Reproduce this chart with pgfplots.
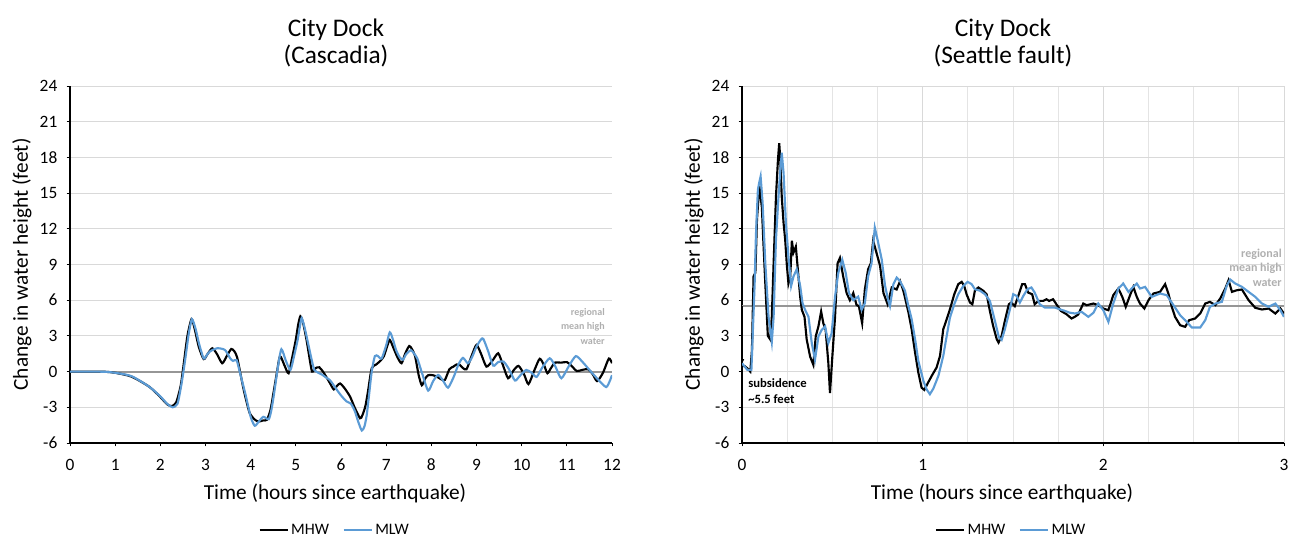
\documentclass[border=0pt]{standalone}
\usepackage{pgfplots}
\pgfplotsset{compat=1.18}
\usepackage{fontspec}
\setmainfont{Carlito}
\usetikzlibrary{arrows.meta}
\definecolor{mlw}{RGB}{91,155,213}
\definecolor{gridc}{RGB}{217,217,217}
\definecolor{meanc}{RGB}{150,150,150}
\definecolor{anno}{RGB}{175,175,175}
\pgfplotsset{
 base/.style={
  scale only axis, width=406.5pt, height=267.75pt,
  ymin=-6, ymax=24, ytick={-6,-3,...,24},
  axis lines=left, axis line style={-, black, line width=0.8pt},
  ymajorgrids, grid style={gridc, line width=0.6pt},
  tick style={black, line width=0.6pt}, tick align=outside, major tick length=2.5pt,
  ticklabel style={font=\fontsize{13}{15}\selectfont},
  /pgf/number format/assume math mode=true,
  yticklabel style={xshift=-3.5pt},
  xticklabel style={yshift=-6pt},
  legend style={draw=none, fill=none, legend columns=2, font=\fontsize{12}{14}\selectfont,
    /tikz/every even column/.append style={column sep=8pt}},
  legend image code/.code={\draw[#1, line width=1.6pt] (0pt,0pt) -- (21pt,0pt);},
 }
}
\begin{document}
\begin{tikzpicture}
\begin{axis}[base, at={(0pt,0pt)}, xmin=0, xmax=12, xtick={0,1,...,12},
  legend style={at={(axis description cs:0.489,-0.2437)}, anchor=center}]
\draw[meanc, line width=1.5pt] (axis cs:0,0) -- (axis cs:12,0);
\addplot[black, line width=1.6pt, smooth, tension=0.4] coordinates {
(0,0) (0.5,0) (0.8,-0.02) (1.0,-0.1) (1.36,-0.42) (1.75,-1.26) (1.99,-2.1) (2.15,-2.75) (2.25,-2.9) (2.35,-2.6) (2.45,-1.2) (2.52,0.7) (2.6,3.0) (2.69,4.4) (2.76,3.6) (2.85,2.1) (2.96,1.05) (3.05,1.5) (3.15,1.96) (3.25,1.5) (3.37,0.7) (3.47,1.3) (3.57,1.9) (3.64,1.7) (3.7,1.2) (3.78,-0.3) (3.85,-1.6) (3.92,-2.7) (3.98,-3.5) (4.08,-4.0) (4.17,-4.2) (4.28,-4.1) (4.36,-4.05) (4.44,-3.2) (4.5,-1.9) (4.58,-0.1) (4.65,1.3) (4.75,0.5) (4.84,-0.14) (4.92,1.2) (5.0,2.7) (5.05,3.9) (5.1,4.65) (5.16,4.1) (5.24,2.6) (5.3,1.2) (5.36,0) (5.44,0.3) (5.52,0.36) (5.6,0.0) (5.67,-0.42) (5.76,-1.0) (5.84,-1.5) (5.91,-1.2) (5.98,-1.0) (6.08,-1.4) (6.2,-2.1) (6.3,-3.0) (6.42,-3.92) (6.47,-3.7) (6.54,-2.9) (6.6,-1.6) (6.68,0.28) (6.78,0.6) (6.87,0.9) (6.95,1.3) (7.02,2.1) (7.08,2.66) (7.16,2.0) (7.25,1.2) (7.34,0.7) (7.42,1.5) (7.51,2.15) (7.57,1.9) (7.64,1.3) (7.72,-0.3) (7.79,-1.15) (7.86,-0.6) (7.93,-0.3) (8.03,-0.3) (8.12,-0.42) (8.22,-0.65) (8.3,-0.7) (8.4,0.2) (8.49,0.42) (8.56,0.6) (8.63,0.56) (8.7,0.3) (8.78,0.2) (8.9,1.4) (9.0,2.24) (9.1,1.5) (9.22,0.42) (9.35,0.9) (9.48,1.54) (9.58,0.6) (9.7,-0.56) (9.82,0.1) (9.93,0.48) (10.05,-0.2) (10.15,-1.05) (10.28,0.1) (10.4,1.08) (10.5,0.5) (10.57,-0.14) (10.65,0.3) (10.74,0.76) (10.87,0.75) (11.0,0.8) (11.1,0.5) (11.22,0.05) (11.35,0.15) (11.47,0.2) (11.57,-0.2) (11.67,-0.8) (11.8,-0.1) (11.93,1.1) (12.0,0.7)
};
\addlegendentry{MHW}
\addplot[mlw, line width=1.6pt, smooth, tension=0.4] coordinates {
(0,0) (0.5,0) (0.8,-0.02) (1.0,-0.1) (1.36,-0.38) (1.75,-1.26) (1.99,-2.05) (2.15,-2.7) (2.27,-3.0) (2.38,-2.7) (2.47,-1.0) (2.55,1.0) (2.63,3.2) (2.7,4.4) (2.78,3.6) (2.86,2.3) (2.96,1.1) (3.03,1.4) (3.1,1.7) (3.26,1.96) (3.43,1.82) (3.55,1.1) (3.61,0.9) (3.69,0.95) (3.77,-0.2) (3.89,-2.0) (4.0,-3.8) (4.09,-4.55) (4.18,-4.2) (4.28,-3.8) (4.4,-4.0) (4.46,-3.2) (4.52,-1.8) (4.6,0.3) (4.68,1.88) (4.78,0.9) (4.88,0.14) (4.96,1.3) (5.04,2.66) (5.09,3.8) (5.13,4.5) (5.2,3.6) (5.27,2.4) (5.35,1.0) (5.41,0.14) (5.5,-0.1) (5.59,-0.28) (5.67,-0.5) (5.75,-0.7) (5.83,-1.1) (5.91,-1.54) (6.0,-2.0) (6.12,-2.5) (6.22,-2.7) (6.31,-3.36) (6.38,-4.2) (6.46,-4.95) (6.52,-4.6) (6.57,-3.64) (6.62,-2.0) (6.68,0) (6.75,1.3) (6.82,1.3) (6.9,1.1) (7.0,2.2) (7.08,3.3) (7.15,2.7) (7.22,1.8) (7.3,1.2) (7.37,1.0) (7.45,1.5) (7.55,1.8) (7.62,1.5) (7.69,1.1) (7.8,-0.2) (7.93,-1.6) (8.04,-0.8) (8.15,-0.28) (8.25,-0.7) (8.37,-1.35) (8.5,-0.4) (8.6,0.6) (8.7,1.15) (8.81,0.7) (8.9,1.2) (9.0,2.1) (9.1,2.7) (9.15,2.75) (9.25,1.8) (9.37,0.5) (9.48,0.8) (9.6,0.84) (9.72,0.2) (9.85,-0.75) (9.95,-0.4) (10.1,0.14) (10.22,-0.1) (10.33,-0.45) (10.45,0.3) (10.62,1.12) (10.75,0.4) (10.88,-0.56) (11.05,0.5) (11.2,1.3) (11.35,0.8) (11.5,0.14) (11.7,-0.7) (11.87,-1.3) (11.95,-0.8) (12.0,-0.3)
};
\addlegendentry{MLW}
\end{axis}
\begin{axis}[base, at={(504pt,0pt)}, xmin=0, xmax=3, xtick={0,1,2,3},
  minor x tick num=3, xmajorgrids, xminorgrids, minor tick length=0pt,
  minor grid style={gridc!70, line width=0.6pt},
  legend style={at={(axis description cs:0.497,-0.2437)}, anchor=center}]
\draw[meanc, line width=1.5pt] (axis cs:0,5.5) -- (axis cs:3,5.5);
\draw[black, line width=0.6pt, -{Latex[length=4pt,width=3.5pt]}] (axis cs:0,5.5) -- (axis cs:0,0.6);
\addplot[black, line width=1.6pt] coordinates {
(0,0.5) (0.015,0.45) (0.028,0.3) (0.046,0.0) (0.055,1.8) (0.064,8.0) (0.074,8.3) (0.083,12.8) (0.096,15.6) (0.103,14.7) (0.11,13.8) (0.118,11.0) (0.129,7.4) (0.143,3.0) (0.156,2.7) (0.165,4.6) (0.175,9.1) (0.188,14.7) (0.199,17.8) (0.206,19.2) (0.211,18.1) (0.22,14.7) (0.23,12.5) (0.239,11.1) (0.248,9.0) (0.257,7.4) (0.267,8.0) (0.276,11.0) (0.285,10.0) (0.298,10.5) (0.309,8.6) (0.322,6.3) (0.331,5.2) (0.346,4.6) (0.358,2.7) (0.377,1.26) (0.395,0.56) (0.408,2.95) (0.423,3.8) (0.438,5.05) (0.45,4.07) (0.463,3.5) (0.478,0.7) (0.487,-1.8) (0.5,1.26) (0.515,4.6) (0.529,9.1) (0.542,9.55) (0.56,8.0) (0.579,6.6) (0.597,6.0) (0.616,6.6) (0.634,5.6) (0.647,5.5) (0.665,4.07) (0.68,6.9) (0.698,8.6) (0.713,9.1) (0.726,11.0) (0.744,10.0) (0.764,8.9) (0.783,6.6) (0.806,5.66) (0.829,7.07) (0.856,6.9) (0.875,7.6) (0.893,6.8) (0.921,5.0) (0.939,3.56) (0.958,1.6) (0.976,-0.08) (0.994,-1.35) (1.009,-1.54) (1.028,-0.98) (1.05,-0.36) (1.077,0.34) (1.096,1.32) (1.114,3.56) (1.133,4.4) (1.151,5.24) (1.175,6.5) (1.197,7.35) (1.216,7.54) (1.23,7.2) (1.243,6.5) (1.262,5.8) (1.275,5.66) (1.289,6.8) (1.308,7.07) (1.335,6.8) (1.354,6.5) (1.372,5.1) (1.39,3.84) (1.41,2.72) (1.42,2.44) (1.437,3.0) (1.455,4.26) (1.477,5.66) (1.49,5.8) (1.51,5.5) (1.529,6.36) (1.551,7.35) (1.566,7.35) (1.584,6.64) (1.606,6.5) (1.62,5.66) (1.64,5.94) (1.667,5.94) (1.685,6.08) (1.7,5.94) (1.722,6.08) (1.74,5.66) (1.765,5.1) (1.796,4.82) (1.824,4.46) (1.842,4.6) (1.861,4.8) (1.889,5.72) (1.908,5.58) (1.945,5.72) (1.972,5.58) (2.0,5.3) (2.028,5.16) (2.055,6.42) (2.083,6.98) (2.105,6.28) (2.124,5.44) (2.148,6.42) (2.166,7.12) (2.185,6.28) (2.203,5.72) (2.227,5.3) (2.25,6.0) (2.277,6.56) (2.314,6.7) (2.342,7.35) (2.36,6.56) (2.379,5.44) (2.397,4.6) (2.425,3.9) (2.453,3.76) (2.475,4.32) (2.508,4.46) (2.536,4.88) (2.564,5.72) (2.59,5.86) (2.62,5.58) (2.647,6.14) (2.675,6.98) (2.693,7.68) (2.712,6.7) (2.74,6.84) (2.767,6.9) (2.804,6.0) (2.841,5.36) (2.878,5.22) (2.915,5.3) (2.952,4.88) (2.98,5.3) (3.0,4.88)
};
\addlegendentry{MHW}
\addplot[mlw, line width=1.6pt] coordinates {
(0,0.7) (0.03,0.14) (0.052,0.14) (0.059,2.95) (0.07,7.4) (0.077,11.4) (0.088,15.3) (0.097,16.0) (0.103,16.4) (0.114,14.2) (0.129,9.1) (0.147,4.6) (0.165,2.5) (0.175,4.6) (0.188,11.1) (0.202,14.7) (0.211,16.7) (0.22,18.4) (0.23,16.7) (0.243,12.5) (0.257,9.7) (0.272,7.2) (0.285,8.0) (0.303,8.6) (0.322,7.2) (0.335,5.75) (0.349,5.2) (0.368,4.6) (0.386,2.4) (0.404,1.0) (0.423,2.95) (0.441,3.5) (0.46,3.8) (0.478,2.4) (0.496,3.2) (0.515,6.3) (0.533,8.3) (0.555,9.4) (0.574,8.3) (0.592,6.6) (0.616,6.0) (0.643,6.3) (0.662,5.2) (0.68,5.75) (0.698,8.0) (0.717,9.1) (0.735,12.1) (0.75,11.1) (0.773,9.45) (0.792,7.2) (0.81,5.94) (0.819,5.5) (0.838,7.35) (0.856,7.9) (0.875,7.6) (0.902,6.8) (0.921,5.5) (0.939,4.4) (0.958,2.72) (0.976,0.9) (1.004,-0.78) (1.022,-1.5) (1.04,-1.9) (1.059,-1.43) (1.087,-0.36) (1.114,1.32) (1.133,3.0) (1.151,4.54) (1.175,5.66) (1.197,6.5) (1.225,7.2) (1.249,7.54) (1.271,7.35) (1.289,6.92) (1.317,6.8) (1.345,6.5) (1.372,5.94) (1.4,4.26) (1.422,2.86) (1.437,2.66) (1.455,3.56) (1.483,5.24) (1.501,6.5) (1.52,6.36) (1.538,5.8) (1.557,6.36) (1.58,6.92) (1.602,7.07) (1.62,6.64) (1.648,5.66) (1.676,5.38) (1.704,5.38) (1.731,5.38) (1.759,5.24) (1.787,5.1) (1.814,4.95) (1.843,4.88) (1.88,5.02) (1.917,4.6) (1.945,4.94) (1.972,5.72) (2.0,5.16) (2.028,4.18) (2.055,5.72) (2.083,6.98) (2.11,7.4) (2.139,6.7) (2.166,7.12) (2.185,7.4) (2.203,6.98) (2.231,7.12) (2.268,6.28) (2.314,6.56) (2.351,6.42) (2.388,5.58) (2.425,4.74) (2.453,4.32) (2.49,3.7) (2.536,3.7) (2.564,4.32) (2.59,5.44) (2.62,5.72) (2.656,5.86) (2.684,7.26) (2.702,7.74) (2.73,7.4) (2.767,7.12) (2.804,6.7) (2.841,6.28) (2.878,5.72) (2.915,5.44) (2.952,5.72) (2.98,5.16) (3.0,4.6)
};
\addlegendentry{MLW}
\end{axis}
% titles
\node[font=\fontsize{19}{22}\selectfont] at (199.5pt,309.75pt) {City Dock};
\node[font=\fontsize{19}{22}\selectfont] at (199.5pt,290.25pt) {(Cascadia)};
\node[font=\fontsize{19}{22}\selectfont] at (699.75pt,309.75pt) {City Dock};
\node[font=\fontsize{19}{22}\selectfont] at (699.75pt,290.25pt) {(Seattle fault)};
% axis labels
\node[font=\fontsize{16}{19}\selectfont, rotate=90] at (-36pt,133.9pt) {Change in water height (feet)};
\node[font=\fontsize{16}{19}\selectfont, rotate=90] at (468pt,133.9pt) {Change in water height (feet)};
\node[font=\fontsize{16}{19}\selectfont] at (198.75pt,-37.5pt) {Time (hours since earthquake)};
\node[font=\fontsize{16}{19}\selectfont] at (699pt,-37.5pt) {Time (hours since earthquake)};
% annotations
\node[anno, font=\bfseries\fontsize{7.5}{9}\selectfont, anchor=east, inner sep=0pt] at (401.25pt,97.5pt) {regional};
\node[anno, font=\bfseries\fontsize{7.5}{9}\selectfont, anchor=east, inner sep=0pt] at (401.25pt,87pt) {mean high};
\node[anno, font=\bfseries\fontsize{7.5}{9}\selectfont, anchor=east, inner sep=0pt] at (401.25pt,76.5pt) {water};
\node[anno, font=\bfseries\fontsize{9}{10.5}\selectfont, anchor=east, inner sep=0pt] at (909pt,141.75pt) {regional};
\node[anno, font=\bfseries\fontsize{9}{10.5}\selectfont, anchor=east, inner sep=0pt] at (909pt,131.25pt) {mean high};
\node[anno, font=\bfseries\fontsize{9}{10.5}\selectfont, anchor=east, inner sep=0pt] at (909pt,120pt) {water};
\node[black, font=\bfseries\fontsize{9.5}{11}\selectfont, anchor=west, inner sep=0pt] at (508.5pt,45pt) {subsidence};
\node[black, font=\bfseries\fontsize{9.5}{11}\selectfont, anchor=west, inner sep=0pt] at (508.5pt,33pt) {\textasciitilde 5.5 feet};
\pgfresetboundingbox
\path (-52.5pt,-73.5pt) rectangle (920.25pt,332.25pt);
\end{tikzpicture}
\end{document}
